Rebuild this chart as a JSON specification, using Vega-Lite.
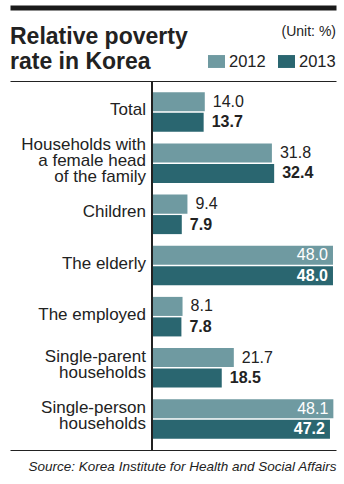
{
  "$schema": "https://vega.github.io/schema/vega-lite/v6.json",
  "width": 326,
  "height": 369,
  "autosize": {"type": "none"},
  "padding": {"left": 10, "top": 81, "right": 8, "bottom": 34},
  "config": {"font": "Liberation Sans", "view": {"stroke": null}},
  "title": {
    "text": ["Relative poverty", "rate in Korea"],
    "anchor": "start",
    "frame": "group",
    "fontSize": 23,
    "fontWeight": "bold",
    "lineHeight": 25,
    "color": "#222",
    "offset": -66
  },
  "data": {
    "values": [
      {"category": "Total", "label": ["Total"], "year": "2012", "value": 14.0},
      {"category": "Total", "label": ["Total"], "year": "2013", "value": 13.7},
      {"category": "Households with a female head of the family", "label": ["Households with", "a female head", "of the family"], "year": "2012", "value": 31.8},
      {"category": "Households with a female head of the family", "label": ["Households with", "a female head", "of the family"], "year": "2013", "value": 32.4},
      {"category": "Children", "label": ["Children"], "year": "2012", "value": 9.4},
      {"category": "Children", "label": ["Children"], "year": "2013", "value": 7.9},
      {"category": "The elderly", "label": ["The elderly"], "year": "2012", "value": 48.0},
      {"category": "The elderly", "label": ["The elderly"], "year": "2013", "value": 48.0},
      {"category": "The employed", "label": ["The employed"], "year": "2012", "value": 8.1},
      {"category": "The employed", "label": ["The employed"], "year": "2013", "value": 7.8},
      {"category": "Single-parent households", "label": ["Single-parent", "households"], "year": "2012", "value": 21.7},
      {"category": "Single-parent households", "label": ["Single-parent", "households"], "year": "2013", "value": 18.5},
      {"category": "Single-person households", "label": ["Single-person", "households"], "year": "2012", "value": 48.1},
      {"category": "Single-person households", "label": ["Single-person", "households"], "year": "2013", "value": 47.2}
    ]
  },
  "layer": [
    {
      "mark": {"type": "bar"},
      "encoding": {
        "y": {"field": "category", "type": "nominal", "sort": null, "axis": null, "scale": {"paddingInner": 0.227, "paddingOuter": 0.22}},
        "yOffset": {"field": "year", "type": "nominal", "scale": {"paddingInner": 0.07}},
        "x": {
          "field": "value", "type": "quantitative",
          "scale": {"domain": [-37.66, 48.8], "nice": false, "zero": false},
          "axis": {"orient": "top", "domain": true, "domainColor": "#222", "domainWidth": 1, "ticks": false, "labels": false, "grid": false, "title": null}
        },
        "color": {
          "field": "year", "type": "nominal",
          "scale": {"domain": ["2012", "2013"], "range": ["#6f9aa1", "#2a6670"]},
          "legend": {
            "title": "(Unit: %)",
            "orient": "none",
            "legendX": 198,
            "legendY": -56,
            "direction": "horizontal",
            "titleAnchor": "end",
            "titleOrient": "top",
            "titleFontSize": 14,
            "titleFontWeight": "normal",
            "titleColor": "#222",
            "titlePadding": 14,
            "labelFontSize": 16.5,
            "labelColor": "#222",
            "labelOffset": 4,
            "columnPadding": 12,
            "symbolType": "M-1,-0.76H1V0.76H-1Z",
            "symbolSize": 289,
            "symbolStrokeWidth": 0,
            "symbolOpacity": 1,
            "padding": 0
          }
        }
      }
    },
    {
      "transform": [{"filter": "datum.value < 45 && datum.year == '2012'"}],
      "mark": {"type": "text", "align": "left", "baseline": "middle", "dx": 8, "fontSize": 16, "color": "#222"},
      "encoding": {
        "y": {"field": "category", "type": "nominal", "sort": null, "axis": null},
        "yOffset": {"field": "year", "type": "nominal"},
        "x": {
          "field": "value", "type": "quantitative",
          "axis": {"orient": "bottom", "domain": true, "domainColor": "#222", "domainWidth": 1, "ticks": false, "labels": false, "grid": false,
            "title": "Source: Korea Institute for Health and Social Affairs",
            "titleAnchor": "end", "titleFontStyle": "italic", "titleFontWeight": "normal", "titleFontSize": 13.5, "titleColor": "#222", "titlePadding": 9}
        },
        "text": {"field": "value", "type": "quantitative", "format": ".1f"}
      }
    },
    {
      "transform": [{"filter": "datum.value < 45 && datum.year == '2013'"}],
      "mark": {"type": "text", "align": "left", "baseline": "middle", "dx": 8, "fontSize": 16, "fontWeight": "bold", "color": "#222"},
      "encoding": {
        "y": {"field": "category", "type": "nominal", "sort": null, "axis": null},
        "yOffset": {"field": "year", "type": "nominal"},
        "x": {"field": "value", "type": "quantitative", "axis": null},
        "text": {"field": "value", "type": "quantitative", "format": ".1f"}
      }
    },
    {
      "transform": [{"filter": "datum.value >= 45 && datum.year == '2012'"}],
      "mark": {"type": "text", "align": "right", "baseline": "middle", "dx": -5, "fontSize": 16, "color": "#ffffff"},
      "encoding": {
        "y": {"field": "category", "type": "nominal", "sort": null, "axis": null},
        "yOffset": {"field": "year", "type": "nominal"},
        "x": {"field": "value", "type": "quantitative", "axis": null},
        "text": {"field": "value", "type": "quantitative", "format": ".1f"}
      }
    },
    {
      "transform": [{"filter": "datum.value >= 45 && datum.year == '2013'"}],
      "mark": {"type": "text", "align": "right", "baseline": "middle", "dx": -5, "fontSize": 16, "fontWeight": "bold", "color": "#ffffff"},
      "encoding": {
        "y": {"field": "category", "type": "nominal", "sort": null, "axis": null},
        "yOffset": {"field": "year", "type": "nominal"},
        "x": {"field": "value", "type": "quantitative", "axis": null},
        "text": {"field": "value", "type": "quantitative", "format": ".1f"}
      }
    },
    {
      "transform": [{"filter": "datum.year == '2012' && length(datum.label) == 1"}],
      "mark": {"type": "text", "align": "right", "baseline": "middle", "dx": -6, "dy": -2, "fontSize": 17, "lineHeight": 16, "color": "#222"},
      "encoding": {
        "y": {"field": "category", "type": "nominal", "sort": null, "axis": null},
        "x": {"datum": 0, "type": "quantitative", "axis": null},
        "text": {"field": "label", "type": "nominal"}
      }
    },
    {
      "transform": [{"filter": "datum.year == '2012' && length(datum.label) == 2"}],
      "mark": {"type": "text", "align": "right", "baseline": "middle", "dx": -6, "dy": -11, "fontSize": 17, "lineHeight": 16, "color": "#222"},
      "encoding": {
        "y": {"field": "category", "type": "nominal", "sort": null, "axis": null},
        "x": {"datum": 0, "type": "quantitative", "axis": null},
        "text": {"field": "label", "type": "nominal"}
      }
    },
    {
      "transform": [{"filter": "datum.year == '2012' && length(datum.label) == 3"}],
      "mark": {"type": "text", "align": "right", "baseline": "middle", "dx": -6, "dy": -18, "fontSize": 17, "lineHeight": 16, "color": "#222"},
      "encoding": {
        "y": {"field": "category", "type": "nominal", "sort": null, "axis": null},
        "x": {"datum": 0, "type": "quantitative", "axis": null},
        "text": {"field": "label", "type": "nominal"}
      }
    },
    {
      "mark": {"type": "rule", "color": "#222", "strokeWidth": 1},
      "encoding": {
        "x": {"datum": 0, "type": "quantitative",
          "axis": {"orient": "top", "offset": 73.5, "domain": true, "domainColor": "#1a1a1a", "domainWidth": 5, "ticks": false, "labels": false, "grid": false, "title": null}}
      }
    }
  ],
  "resolve": {"axis": {"x": "independent"}}
}
